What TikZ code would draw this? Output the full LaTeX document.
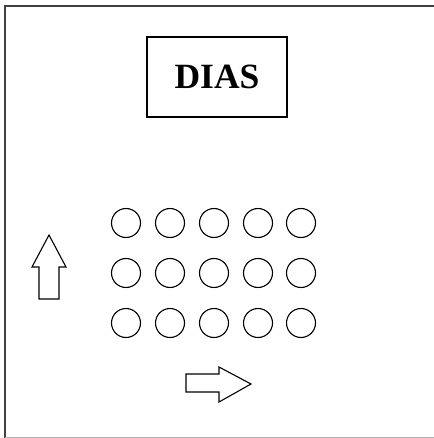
\documentclass[tikz,border=0pt]{standalone}
\usepackage{fontspec}
\setmainfont{Liberation Serif}
\usepackage{tikz}

\tikzset{
	seat/.style={draw, circle, minimum size=29pt, inner sep=0pt, line width=1.1pt},
	dias/.style={draw, line width=1.2pt, minimum width=140pt, minimum height=80pt, font=\fontsize{35.5}{36}\selectfont\bfseries},
	flow/.style={draw, line width=1.1pt, line join=miter}
}

\begin{document}
\begin{tikzpicture}[x=1pt, y=-1pt]
	\useasboundingbox (0,0) rectangle (433,438);
	
	% room walls
	\draw[line width=2pt, black!75] (5,445) -- (5,6) -- (440,6);
	\draw[line width=1pt, black!30] (5,437) -- (440,437);
	
	\node[dias] (dias) at (217,77) {DIAS};
	
	% seats
	\foreach \r/\y in {1/223, 2/273, 3/323}
		\foreach \c/\x in {1/126, 2/170, 3/214, 4/258, 5/301}
			\node[seat] (s\r\c) at (\x,\y) {};
	
	% direction arrows
	\draw[flow] (39,299) -- (39,267) -- (32,267) -- (49,235) -- (66,267) -- (59,267) -- (59,299) -- cycle;
	\draw[flow] (186,374) -- (219,374) -- (219,367) -- (251,384) -- (219,402) -- (219,392) -- (186,392) -- cycle;
\end{tikzpicture}
\end{document}
